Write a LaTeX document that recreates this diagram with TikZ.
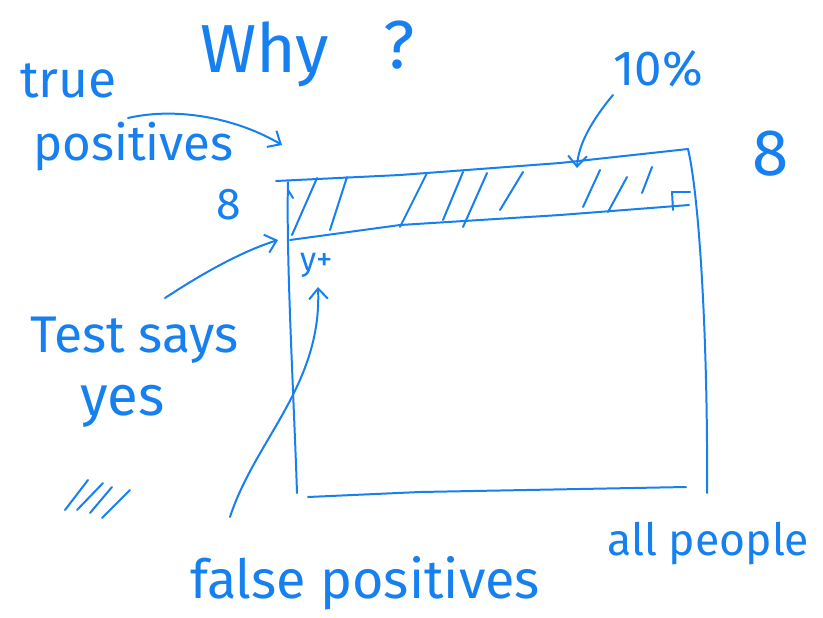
\documentclass[tikz,border=0pt]{standalone}
\usepackage{fontspec}
\setmainfont{Fira Sans}
\usetikzlibrary{arrows.meta}
\definecolor{pen}{RGB}{22,128,240}
\begin{document}
\begin{tikzpicture}[x=0.03cm,y=-0.03cm,
  pen/.style={draw=pen, line width=1.7pt, line cap=round, line join=round},
  txt/.style={text=pen, inner sep=0pt, anchor=base west},
  tipped/.style={pen, -{Straight Barb[length=9pt,width=16pt]}}]
\useasboundingbox (0,0) rectangle (823,617);
\fill[white] (0,0) rectangle (823,617);

% texts
\node[txt, font=\fontsize{58}{60}\selectfont] (why) at (200,72) {Why};
\node[txt, font=\fontsize{58}{60}\selectfont] (q) at (383,68) {?};
\node[txt, font=\fontsize{44}{46}\selectfont] (true) at (20,97) {true};
\node[txt, font=\fontsize{42}{44}\selectfont] (pos) at (33,160) {positives};
\node[txt, font=\fontsize{44}{46}\selectfont] (test) at (30,352) {Test says};
\node[txt, font=\fontsize{48}{50}\selectfont] (yes) at (80,415) {yes};
\node[txt, font=\fontsize{46}{48}\selectfont] (fp) at (190,598) {false positives};
\node[txt, font=\fontsize{38}{40}\selectfont] (all) at (607,555) {all people};
\node[txt, font=\fontsize{42}{44}\selectfont] (pct) at (613,85) {10\%};
\node[txt, font=\fontsize{56}{58}\selectfont] (eightr) at (752,175) {8};
\node[txt, font=\fontsize{38}{40}\selectfont] (eightl) at (216,219) {8};
\node[txt, font=\fontsize{28}{30}\selectfont] (yplus) at (300,270) {y+};

% box
\coordinate (tl) at (276,181);
\coordinate (tr) at (688,149);
\coordinate (bl) at (297,493);
\coordinate (br) at (707,493);
\draw[pen] (tl) -- (400,175) -- (560,163) -- (tr);
\draw[pen] (288,182) .. controls (286,260) and (294,400) .. (bl);
\draw[pen] (tr) .. controls (700,200) and (708,350) .. (br);
\draw[pen] (308,497) -- (420,492) -- (686,487);
% band lower edge
\draw[pen] (290,240) -- (400,225) -- (560,215) -- (689,205);
% small mark at right end of band
\draw[pen] (690,192) -- (672,192) -- (673,210);
% hatching
\foreach \a/\b in {{292,235}/{317,178},{330,230}/{347,177},{400,227}/{427,173},{443,220}/{463,172},{463,227}/{487,173},{500,210}/{523,172},{583,207}/{600,170},{608,212}/{627,177},{642,193}/{652,167}}
  \draw[pen] (\a) -- (\b);
\draw[pen] (288,190) -- (293,198);

% marks under "yes"
\foreach \a/\b in {{65,510}/{88,480},{77,510}/{103,483},{90,513}/{112,487},{102,518}/{130,490}}
  \draw[pen] (\a) -- (\b);

% arrows
\coordinate (tpS) at (128,118);
\coordinate (tpE) at (282,145);
\draw[tipped] (tpS) .. controls (180,106) and (240,120) .. (tpE);
\coordinate (tsS) at (165,298);
\coordinate (tsE) at (278,240);
\draw[tipped] (tsS) .. controls (200,275) and (240,252) .. (tsE);
\coordinate (fpS) at (230,517);
\coordinate (fpE) at (318,287);
\draw[tipped] (fpS) .. controls (255,440) and (322,385) .. (fpE);
\coordinate (pcS) at (613,95);
\coordinate (pcE) at (577,168);
\draw[tipped] (pcS) .. controls (592,120) and (578,145) .. (pcE);
\end{tikzpicture}
\end{document}
